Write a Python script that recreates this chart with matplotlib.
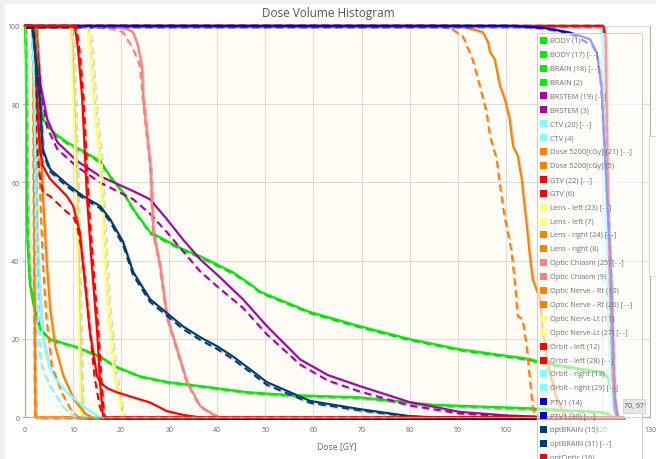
import matplotlib
matplotlib.use("Agg")
import matplotlib.pyplot as plt
from matplotlib.patches import Rectangle
import matplotlib.patheffects as pe

# ---------------- data ----------------
body_x = [0, 0.15, 0.3, 0.5, 1.0, 2.0, 3.2, 5.1, 10.7, 15.5, 18.9, 23.8, 29.7, 36.4, 46.4, 55, 69.6, 85, 105, 112, 120.2, 121.5, 122.3, 124.4]
body_y = [100, 92, 65, 45, 34, 27, 22.5, 20, 18, 15.6, 13, 10.5, 9, 8, 6.4, 5.7, 5.1, 3.2, 2.3, 1.8, 1.3, 0.8, 0, 0]
body_d_x = [0, 0.2, 0.35, 0.55, 1.1, 2.1, 3.3, 5.2, 10.8, 15.6, 19.0, 23.9, 29.8, 36.5, 46.5, 55, 69.7, 85, 105, 112, 120.2, 121.5, 122.3, 124.4]
body_d_y = [100, 92, 65, 45, 34, 27, 22.3, 19.8, 17.8, 15.4, 12.8, 10.4, 8.9, 7.9, 6.3, 5.6, 5.0, 3.1, 2.2, 1.7, 1.2, 0.7, 0, 0]

brain_x = [0, 1.5, 2.2, 3.0, 3.7, 5.8, 8.7, 12.1, 15.6, 17.7, 20.4, 22.5, 26, 32.8, 36.4, 43.2, 46.8, 48.9, 59.3, 69.6, 80, 90.4, 105, 107.1, 120.2, 121.3, 122, 122.5, 123, 124.4]
brain_y = [100, 100, 90, 80, 76.2, 72.9, 70.3, 68, 65.5, 61.6, 57.5, 53.2, 47.3, 43, 41.2, 37.1, 34.1, 32.1, 26.9, 23.3, 20, 17.4, 14.9, 14.1, 11.5, 10, 7, 2, 0, 0]
brain_d_x = [0, 1.6, 2.3, 3.1, 3.8, 5.9, 8.8, 12.2, 15.7, 17.8, 20.5, 22.6, 26.1, 32.9, 36.5, 43.3, 46.9, 49.0, 59.4, 69.7, 80, 90.4, 105, 107.1, 120.2, 121.3, 122, 122.5, 123, 124.4]
brain_d_y = [100, 100, 90, 80, 75.8, 72.5, 69.9, 67.6, 65.1, 61.2, 57.1, 52.8, 46.9, 42.6, 40.8, 36.7, 33.8, 31.8, 26.6, 23.0, 19.8, 17.2, 14.7, 13.9, 11.3, 9.8, 6.8, 2, 0, 0]

brstem_x = [0, 2.2, 3.2, 4.6, 6.7, 10.8, 15.6, 22.5, 26, 29.5, 32.8, 36.4, 39.9, 45.3, 50.3, 57.2, 63, 69.6, 80, 90.4, 100, 108, 112, 124.4]
brstem_y = [100, 100, 85, 76.2, 70.3, 65.5, 61.6, 57.8, 55.7, 50.6, 45.5, 40.4, 36.5, 30.2, 23.3, 14.8, 10.8, 8, 3.9, 1.4, 0.5, 0.1, 0, 0]
brstem_d_x = [0, 2.2, 3.2, 4.6, 6.7, 10.8, 15.6, 22.5, 26, 29.5, 32.8, 36.4, 39.9, 45.3, 50.3, 57.2, 63, 69.6, 80, 90.4, 100, 108, 112, 124.4]
brstem_d_y = [100, 100, 84, 74, 68.5, 64, 60, 55.7, 52, 47.3, 42.5, 37.3, 33.5, 28, 21.2, 13.5, 9.4, 6.6, 3, 1, 0.3, 0.05, 0, 0]

ctv_x = [0, 119.4, 120, 120.2, 120.6, 121.2, 121.8, 122.2, 122.7, 124.4]
ctv_y = [100, 100, 98, 85, 55, 30, 10, 2, 0, 0]
ctv_d_x = [0, 119.3, 119.9, 120.1, 120.5, 121.1, 121.7, 122.1, 122.6, 124.4]
ctv_d_y = [100, 100, 98, 85, 55, 30, 10, 2, 0, 0]

dose_x = [0, 90.5, 92.9, 95.2, 96.3, 96.7, 97.7, 98.8, 99.8, 100.8, 101.5, 102.5, 103.3, 103.9, 104.4, 105, 105.6, 107.1, 107.7, 109.1, 110.6, 111.9, 112.7, 124.4]
dose_y = [100, 100, 99.2, 98.4, 95.8, 93.3, 91.4, 84.6, 81.3, 76.2, 69.3, 66.7, 60.9, 54, 48.8, 41.2, 35.3, 30.2, 21.7, 11.5, 4.7, 1.3, 0, 0]
dose_d_x = [0, 86.5, 88.8, 91.1, 93.1, 94.6, 96, 96.7, 98.1, 98.8, 99.8, 100.2, 101.2, 101.9, 102.5, 103.5, 104.4, 105, 105.6, 106, 124.4]
dose_d_y = [100, 100, 99.2, 97.2, 91.4, 84.6, 78, 71.9, 66, 59.1, 50.7, 48.8, 42.2, 34.4, 25.8, 25.1, 17.5, 9.8, 2.9, 0, 0]

gtv_x = [0, 120.3, 120.8, 121, 121.3, 121.8, 122.3, 122.7, 123.2, 124.4]
gtv_y = [100, 100, 97, 80, 55, 30, 10, 2, 0, 0]
gtv_d_x = [0, 120.2, 120.7, 120.9, 121.2, 121.7, 122.2, 122.6, 123.1, 124.4]
gtv_d_y = [100, 100, 97, 80, 55, 30, 10, 2, 0, 0]

lensl_x = [0, 9.2, 9.6, 10.0, 10.4, 10.8, 11.2, 11.5, 11.7, 124.4]
lensl_y = [100, 100, 95, 81, 65, 47, 20, 4.7, 0, 0]
lensl_d_x = [0, 9.6, 10.0, 10.4, 10.8, 11.2, 11.6, 11.9, 12.1, 124.4]
lensl_d_y = [100, 100, 95, 81, 65, 47, 20, 4.7, 0, 0]

lensr_x = [0, 1.6, 1.8, 1.95, 2.1, 2.2, 124.4]
lensr_y = [100, 100, 80, 40, 10, 0, 0]
lensr_d_x = [0, 1.5, 1.7, 1.85, 2.0, 2.1, 124.4]
lensr_d_y = [100, 100, 80, 40, 10, 0, 0]

chiasm_x = [0, 17, 19.5, 21.2, 22.5, 23.5, 24.3, 24.6, 25.4, 26.1, 26.7, 28.1, 29.5, 31.6, 33.7, 36.4, 39.1, 40.5, 124.4]
chiasm_y = [100, 100, 99.7, 99.2, 98.4, 94.8, 89.7, 81.3, 72, 64, 47.3, 38.6, 25.8, 17.4, 9, 2.9, 0.8, 0, 0]
chiasm_d_x = [0, 13.5, 15.6, 18, 20.4, 22.5, 23.9, 24.5, 25.3, 26.0, 26.6, 28.0, 29.4, 31.5, 33.6, 36.3, 39.0, 40.4, 124.4]
chiasm_d_y = [100, 100, 99.7, 99.3, 98.4, 94, 89.7, 81.3, 72, 64, 47.3, 38.6, 25.8, 17.4, 9, 2.9, 0.8, 0, 0]

onr_x = [0, 2.3, 2.8, 3.3, 3.8, 4.5, 5.2, 6.3, 8.0, 10.2, 12.5, 14.0, 124.4]
onr_y = [100, 100, 85, 68, 55, 40, 28, 18, 10.5, 4.5, 1, 0, 0]
onr_d_x = [0, 2.1, 2.5, 2.9, 3.2, 3.7, 4.4, 5.6, 7.6, 9.8, 11.2, 124.4]
onr_d_y = [100, 100, 85, 68, 55, 40, 26, 13, 6.4, 1.3, 0, 0]

onl_x = [0, 12.8, 13.2, 13.6, 14.2, 15.6, 16.2, 17.0, 18.3, 19.8, 20.3, 124.4]
onl_y = [100, 100, 97, 92, 81, 64, 47, 30, 13, 2, 0, 0]
onl_d_x = [0, 13.2, 13.6, 14.0, 14.6, 16.0, 16.6, 17.4, 18.7, 20.2, 20.7, 124.4]
onl_d_y = [100, 100, 97, 92, 81, 64, 47, 30, 13, 2, 0, 0]

orbl_x = [0, 1.5, 2.0, 2.5, 3.1, 3.7, 5.2, 8.7, 10, 11.4, 12.1, 13.5, 15, 15.6, 17, 19.1, 22.5, 26, 29.5, 33, 36.4, 124.4]
orbl_y = [100, 100, 92, 81.3, 68.5, 64.2, 60.9, 56.5, 54, 47.3, 38.6, 21.7, 10.5, 9, 7.5, 6.4, 5.1, 3.8, 1.6, 0.6, 0, 0]
orbl_d_x = [0, 1.5, 2.0, 2.4, 3.0, 3.7, 5.2, 8.7, 10, 10.8, 11.6, 12.5, 13.5, 14.5, 15.5, 16.3, 124.4]
orbl_d_y = [100, 100, 88, 71, 62, 57.5, 56.5, 52.4, 51.4, 49, 44, 35, 22, 10, 3, 0, 0]

orbr_x = [0, 1.6, 2.0, 2.3, 2.6, 3.1, 3.7, 5.0, 6.2, 8.7, 12.1, 15.1, 16, 124.4]
orbr_y = [100, 100, 80, 55, 40, 30, 20, 13, 10, 6.4, 2.8, 0.4, 0, 0]
orbr_d_x = [0, 1.5, 1.9, 2.2, 2.4, 2.7, 3.1, 4.0, 5.2, 7.8, 10.0, 11, 124.4]
orbr_d_y = [100, 100, 80, 50, 35, 23, 15, 11, 8, 2.8, 0.4, 0, 0]

ptv_x = [0, 100.8, 108, 113.3, 117.5, 118.9, 119.9, 120.6, 121.3, 121.8, 122.2, 122.7, 123.3, 124.4]
ptv_y = [100, 100, 99.5, 98.3, 96.6, 93.2, 84.7, 67.7, 50.7, 40, 25, 5, 0, 0]
ptv_d_x = [0, 102, 107, 111.2, 114.3, 116.8, 118.1, 119.1, 119.8, 120.6, 121.3, 121.8, 122.2, 122.7, 123.3, 124.4]
ptv_d_y = [100, 100, 99.5, 98.7, 97.5, 95.8, 94.9, 92, 84.7, 67.7, 50.7, 40, 25, 5, 0, 0]

optb_x = [0, 1.5, 2.2, 3.1, 3.7, 5.2, 8.7, 12.1, 15.6, 17.7, 20.4, 22.5, 26, 32.8, 36.4, 39.9, 43.2, 46.8, 50.3, 59.3, 69.6, 80, 85, 124.4]
optb_y = [100, 100, 92, 81.3, 68.5, 63.4, 59.6, 56.5, 54, 50.6, 44.8, 37.1, 30.2, 23.3, 20.5, 18.2, 15.6, 12.3, 9, 4.2, 2.1, 0.3, 0, 0]
optb_d_x = [0, 1.5, 2.2, 3.1, 3.7, 5.2, 8.7, 12.1, 15.6, 17.7, 20.4, 22.5, 26, 32.8, 36.4, 39.9, 43.2, 46.8, 50.3, 59.3, 69.6, 80, 85, 124.4]
optb_d_y = [100, 100, 91, 80.5, 67.8, 62.8, 59.0, 56.0, 53.4, 50.0, 44.0, 36.3, 29.5, 22.6, 19.8, 17.5, 14.9, 11.6, 8.3, 3.7, 1.8, 0.2, 0, 0]

optopt_x = [0, 10.3, 10.7, 11.1, 11.9, 12.9, 13.9, 15.0, 15.6, 16.2, 16.5, 124.4]
optopt_y = [100, 100, 97, 93, 81.3, 55.8, 38.6, 21.7, 9, 0.5, 0, 0]
optopt_d_x = [0, 10.6, 11.0, 11.4, 12.2, 13.2, 14.2, 15.3, 15.9, 16.5, 16.8, 124.4]
optopt_d_y = [100, 100, 97, 93, 81.3, 55.8, 38.6, 21.7, 9, 0.5, 0, 0]

structures = ["BODY", "BRAIN", "BRSTEM", "CTV", "Dose 5200[cGy]", "GTV", "Lens - left", "Lens - right",
              "Optic Chiasm", "Optic Nerve - Rt", "Optic Nerve-Lt", "Orbit - left", "Orbit - right",
              "PTV1", "optBRAIN", "optOptic"]
colors = ["#00ee00", "#00ee00", "#aa00aa", "#80ffff", "#ff8000", "#ff0000", "#ffff80", "#ff8000",
          "#ff8080", "#ff8000", "#ffff80", "#ff0000", "#80ffff", "#0000dd", "#003c78", "#ff0000"]
solid_x = [body_x, brain_x, brstem_x, ctv_x, dose_x, gtv_x, lensl_x, lensr_x, chiasm_x, onr_x, onl_x, orbl_x, orbr_x, ptv_x, optb_x, optopt_x]
solid_y = [body_y, brain_y, brstem_y, ctv_y, dose_y, gtv_y, lensl_y, lensr_y, chiasm_y, onr_y, onl_y, orbl_y, orbr_y, ptv_y, optb_y, optopt_y]
dash_x = [body_d_x, brain_d_x, brstem_d_x, ctv_d_x, dose_d_x, gtv_d_x, lensl_d_x, lensr_d_x, chiasm_d_x, onr_d_x, onl_d_x, orbl_d_x, orbr_d_x, ptv_d_x, optb_d_x, optopt_d_x]
dash_y = [body_d_y, brain_d_y, brstem_d_y, ctv_d_y, dose_d_y, gtv_d_y, lensl_d_y, lensr_d_y, chiasm_d_y, onr_d_y, onl_d_y, orbl_d_y, orbr_d_y, ptv_d_y, optb_d_y, optopt_d_y]

# legend order as shown (structure index, dashed?) -- also the drawing order
legend_order = [(0, False), (0, True), (1, True), (1, False), (2, True), (2, False), (3, True), (3, False),
                (4, True), (4, False), (5, True), (5, False), (6, True), (6, False), (7, True), (7, False),
                (8, True), (8, False), (9, False), (9, True), (10, False), (10, True), (11, False), (11, True),
                (12, False), (12, True), (13, False), (13, True), (14, False), (14, True), (15, False), (15, True)]

# ---------------- figure ----------------
W, H = 656, 460
fig = plt.figure(figsize=(W / 100, H / 100), dpi=100)
fig.patch.set_facecolor("#f0f0f0")
fig.patches.append(Rectangle((5 / W, 0), 1, 1 - 5 / H, transform=fig.transFigure,
                             facecolor="white", edgecolor="none", zorder=-10))

ax = fig.add_axes([25 / W, 1 - 418.3 / H, 625 / W, 391.5 / H])
ax.set_facecolor("#fffdf5")
ax.set_xlim(0, 130)
ax.set_ylim(0, 100)
ax.set_xticks(range(0, 131, 10))
ax.set_yticks(range(0, 101, 20))
ax.grid(True, color="#dcdcdc", lw=0.8)
ax.set_axisbelow(True)
ax.spines["top"].set_visible(False)
ax.spines["right"].set_color("#b0b0b0")
ax.spines["left"].set_color("#aaaaaa")
ax.spines["bottom"].set_color("#aaaaaa")
for s in ["left", "bottom", "right"]:
    ax.spines[s].set_linewidth(0.8)
ax.tick_params(axis="x", length=0, pad=6, labelsize=5, labelcolor="#666666")
ax.tick_params(axis="y", length=2.5, width=0.6, color="#aaaaaa", pad=1.5, labelsize=5, labelcolor="#666666")
for lab in ax.get_xticklabels() + ax.get_yticklabels():
    lab.set_fontfamily("Open Sans")

shadow = [pe.SimpleLineShadow(offset=(1.1, -1.1), shadow_color="k", alpha=0.15), pe.Normal()]

z = 2
for si, dashed in legend_order:
    xs = dash_x[si] if dashed else solid_x[si]
    ys = dash_y[si] if dashed else solid_y[si]
    ls = (0, (3.5, 2.2)) if dashed else "-"
    ax.plot(xs, ys, color=colors[si], lw=1.5, ls=ls, clip_on=False, zorder=z,
            path_effects=shadow, solid_joinstyle="round")
    z += 0.01

# title and axis label
fig.text(328 / W, 1 - 13 / H, "Dose Volume Histogram", ha="center", va="center",
         fontsize=8.5, color="#555555", family="Open Sans")
fig.text(337 / W, 1 - 447 / H, "Dose [GY]", ha="center", va="center",
         fontsize=6.2, color="#666666", family="Open Sans")

# legend box (semi-transparent)
lx0, ly0, lx1 = 537, 34, 642
fig.patches.append(Rectangle((lx0 / W, 1 - 480 / H), (lx1 - lx0) / W, (480 - ly0) / H,
                             transform=fig.transFigure, facecolor="white", alpha=0.6,
                             edgecolor="none", zorder=5))
fig.patches.append(Rectangle((lx0 / W, 1 - 480 / H), (lx1 - lx0) / W, (480 - ly0) / H,
                             transform=fig.transFigure, facecolor="none",
                             edgecolor="#d0d0d0", lw=0.8, zorder=5.1))
for k, (si, dashed) in enumerate(legend_order):
    yc = 41.3 + 13.9 * k
    num = si + 17 if dashed else si + 1
    label = f"{structures[si]} ({num})" + (" [- -]" if dashed else "")
    fig.patches.append(Rectangle((539.5 / W, 1 - (yc + 3.5) / H), 7 / W, 7 / H,
                                 transform=fig.transFigure, facecolor=colors[si],
                                 edgecolor="none", zorder=6))
    fig.text(550.5 / W, 1 - yc / H, label, ha="left", va="center", fontsize=5.3,
             color="#707070", family="Open Sans", zorder=6)

# side panel on the right edge
fig.patches.append(Rectangle((649 / W, 1 - 277 / H), 20 / W, 140 / H, transform=fig.transFigure,
                             facecolor="white", edgecolor="#d8d8d8", lw=0.8, zorder=7))

# tooltip
fig.patches.append(Rectangle((623 / W, 1 - 414 / H), 22 / W, 14 / H, transform=fig.transFigure,
                             facecolor="#e6e6e6", edgecolor="#d0d0d0", lw=0.6, zorder=8))
fig.text(634 / W, 1 - 407 / H, "70, 97", ha="center", va="center", fontsize=5,
         color="#555555", family="Open Sans", zorder=9)

fig.savefig("out.png", dpi=100)
